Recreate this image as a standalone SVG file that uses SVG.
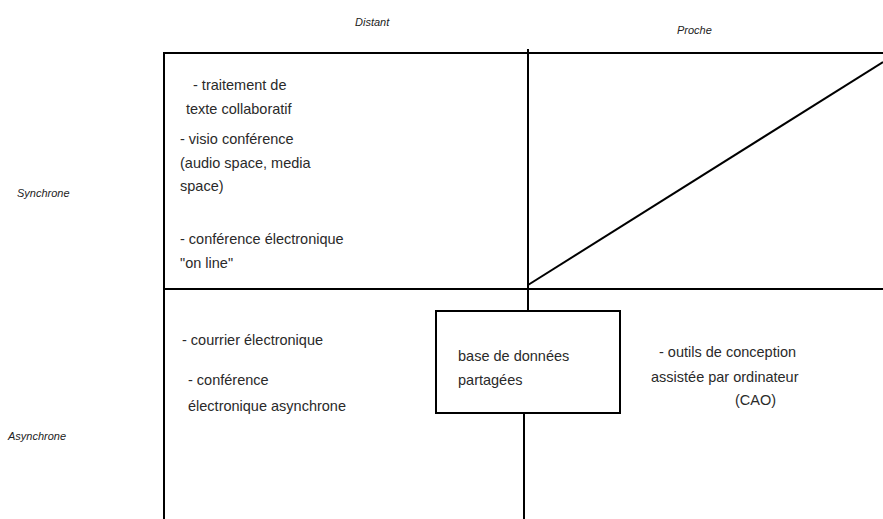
<svg xmlns="http://www.w3.org/2000/svg" width="883" height="519" viewBox="0 0 883 519">
<style>
.ln{stroke:#000;stroke-width:2;fill:none}
.t{font-family:"Liberation Sans",Arial,sans-serif;font-size:14.5px;fill:#2a2a2a}
.ax{font-family:"Liberation Sans",Arial,sans-serif;font-size:11px;font-style:italic;fill:#222}
</style>
<rect width="883" height="519" fill="#fff"/>
<g id="connectors">
<line class="ln" x1="163" y1="53" x2="883" y2="53"/>
<line class="ln" x1="164" y1="52" x2="164" y2="519"/>
<line class="ln" x1="164" y1="289" x2="883" y2="289"/>
<line class="ln" x1="528" y1="49" x2="528" y2="311"/>
<line class="ln" x1="524" y1="413" x2="524" y2="519"/>
<line class="ln" x1="528" y1="285" x2="883" y2="62"/>
</g>
<g id="axis-distant"><text class="ax" x="355" y="26">Distant</text></g>
<g id="axis-proche"><text class="ax" x="677" y="34">Proche</text></g>
<g id="axis-synchrone"><text class="ax" x="17" y="197">Synchrone</text></g>
<g id="axis-asynchrone"><text class="ax" x="8" y="440">Asynchrone</text></g>
<g id="quadrant-synchrone-distant">
<text class="t" x="193" y="90">- traitement de</text>
<text class="t" x="186" y="114">texte collaboratif</text>
<text class="t" x="180" y="144">- visio conférence</text>
<text class="t" x="180" y="168">(audio space, media</text>
<text class="t" x="180" y="191">space)</text>
<text class="t" x="180" y="244">- conférence électronique</text>
<text class="t" x="180" y="268">"on line"</text>
</g>
<g id="quadrant-asynchrone-distant">
<text class="t" x="182" y="345">- courrier électronique</text>
<text class="t" x="188" y="385">- conférence</text>
<text class="t" x="188" y="411">électronique asynchrone</text>
</g>
<g id="node-base-donnees">
<rect class="ln" x="436" y="311" width="184" height="102"/>
<text class="t" x="458" y="361">base de données</text>
<text class="t" x="458" y="385">partagées</text>
</g>
<g id="quadrant-asynchrone-proche">
<text class="t" x="659" y="357">- outils de conception</text>
<text class="t" x="651" y="382">assistée par ordinateur</text>
<text class="t" x="735" y="405">(CAO)</text>
</g>
</svg>
